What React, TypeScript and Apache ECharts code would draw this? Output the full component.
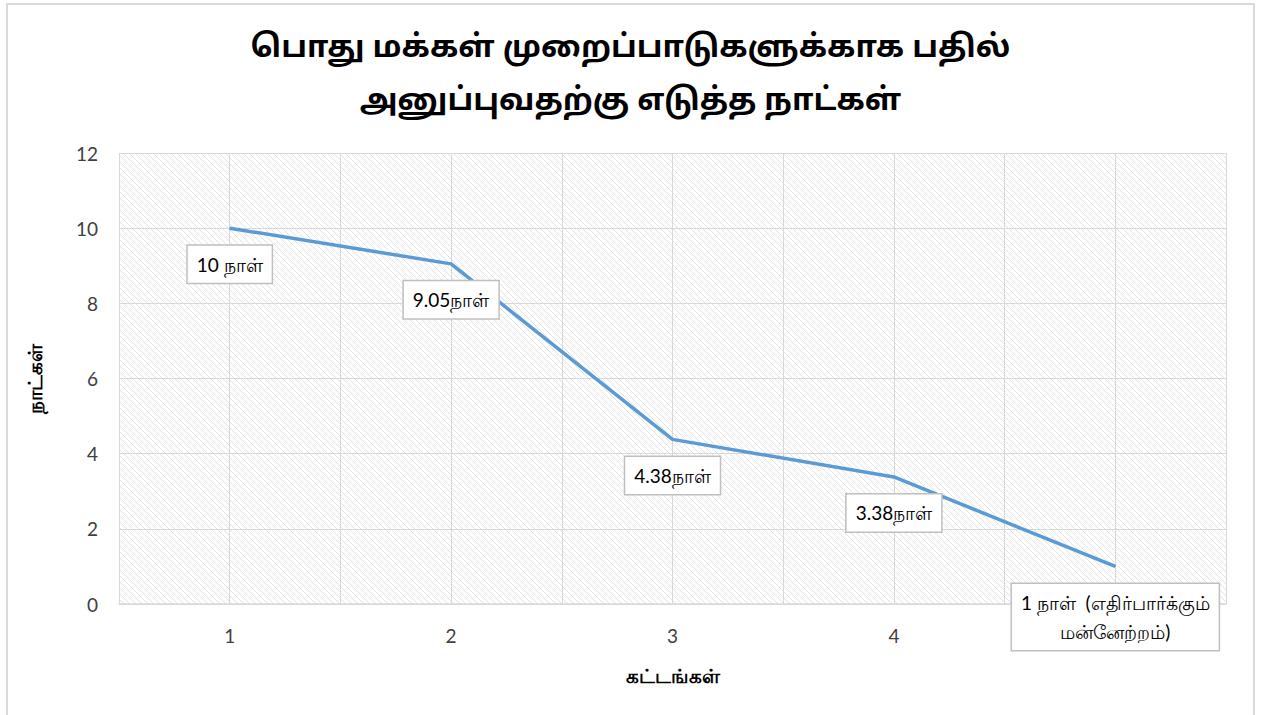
import React, { useEffect, useRef } from "react";
import * as echarts from "echarts";

const titleLines = ["பொது மக்கள் முறைப்பாடுகளுக்காக பதில்", "அனுப்புவதற்கு எடுத்த நாட்கள்"];
const xAxisName = "கட்டங்கள்";
const yAxisName = "நாட்கள்";
const stages = [1, 2, 3, 4, 5];
const days = [10, 9.05, 4.38, 3.38, 1];
const dataLabels = [
  "10 நாள்",
  "9.05நாள்",
  "4.38நாள்",
  "3.38நாள்",
  "1 நாள்  (எதிர்பார்க்கும்\nமன்னேற்றம்)",
];
const xTickLabels = ["1", "2", "3", "4", ""];

function makeHatch(): HTMLCanvasElement {
  const c = document.createElement("canvas");
  const s = 6;
  c.width = s;
  c.height = s;
  const ctx = c.getContext("2d")!;
  ctx.fillStyle = "#ffffff";
  ctx.fillRect(0, 0, s, s);
  ctx.strokeStyle = "#e2e2e2";
  ctx.lineWidth = 1;
  ctx.beginPath();
  ctx.moveTo(-1, -1);
  ctx.lineTo(s + 1, s + 1);
  ctx.moveTo(-1, s - 1);
  ctx.lineTo(1, s + 1);
  ctx.moveTo(s - 1, -1);
  ctx.lineTo(s + 1, 1);
  ctx.stroke();
  return c;
}

export default function App() {
  const ref = useRef<HTMLDivElement>(null);
  useEffect(() => {
    if (!ref.current) return;
    const chart = echarts.init(ref.current, undefined, { renderer: "svg" });
    const hatch = makeHatch();
    const font = "Lato, 'Liberation Sans', sans-serif";
    chart.setOption({
      animation: false,
      backgroundColor: "#ffffff",
      title: {
        text: titleLines.join("\n"),
        left: "center",
        top: 17,
        textStyle: {
          fontSize: 31,
          fontWeight: "bold",
          color: "#000000",
          lineHeight: 53,
          fontFamily: "'Noto Sans Tamil', 'Latha', sans-serif",
        },
      },
      graphic: [
        {
          type: "rect",
          shape: { x: 7, y: 4, width: 1247, height: 720 },
          style: { fill: "none", stroke: "#d9d9d9", lineWidth: 2 },
          silent: true,
        },
      ],
      grid: {
        left: 119,
        right: 35,
        top: 153,
        bottom: 111,
        show: true,
        borderWidth: 0,
        backgroundColor: { image: hatch, repeat: "repeat" },
      },
      xAxis: {
        type: "value",
        min: 0.5,
        max: 5.5,
        interval: 0.5,
        name: xAxisName,
        nameLocation: "middle",
        nameGap: 62,
        nameTextStyle: { fontSize: 20, fontWeight: "bold", color: "#000000" },
        axisLine: { show: true, lineStyle: { color: "#d9d9d9", width: 1.5 } },
        axisTick: { show: false },
        splitLine: { show: true, lineStyle: { color: "#d9d9d9", width: 1 } },
        axisLabel: {
          fontSize: 19,
          color: "#404040",
          margin: 22,
          fontFamily: font,
          formatter: (v: number) => {
            const i = stages.indexOf(v);
            return i >= 0 ? xTickLabels[i] : "";
          },
        },
      },
      yAxis: {
        type: "value",
        min: 0,
        max: 12,
        interval: 2,
        name: yAxisName,
        nameLocation: "middle",
        nameGap: 74,
        nameRotate: 90,
        nameTextStyle: { fontSize: 20, fontWeight: "bold", color: "#000000" },
        axisLine: { show: false },
        axisTick: { show: false },
        splitLine: { show: true, lineStyle: { color: "#d9d9d9", width: 1 } },
        axisLabel: { fontSize: 19, color: "#404040", margin: 21, fontFamily: font },
      },
      series: [
        {
          type: "line",
          data: stages.map((s, i) => [s, days[i]]),
          showSymbol: true,
          symbol: "circle",
          symbolSize: 1,
          itemStyle: { color: "#5B9BD5" },
          lineStyle: { color: "#5B9BD5", width: 3.5 },
          label: {
            show: true,
            position: "bottom",
            distance: 17,
            formatter: (p: any) => dataLabels[p.dataIndex],
            fontSize: 19,
            color: "#000000",
            backgroundColor: "#ffffff",
            borderColor: "#bfbfbf",
            borderWidth: 1.5,
            padding: [4, 9, 4, 9],
            lineHeight: 29,
            align: "center",
            fontFamily: font,
          },
        },
      ],
    });
    return () => chart.dispose();
  }, []);
  return (
    <div
      ref={ref}
      style={{ position: "fixed", left: 0, top: 0, width: 1261, height: 715 }}
    />
  );
}
